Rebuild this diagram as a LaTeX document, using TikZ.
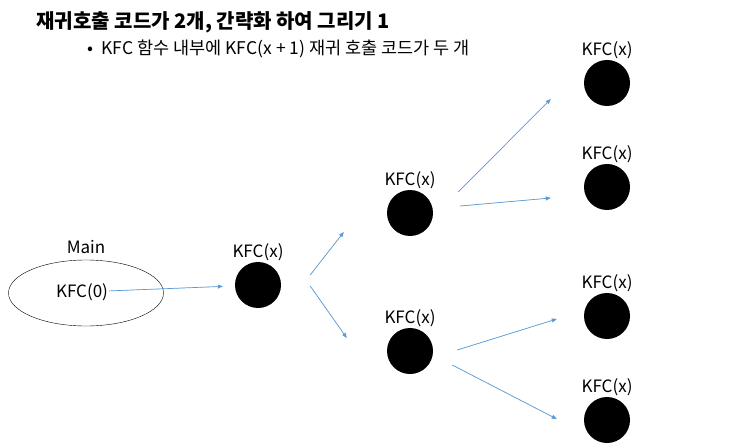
\documentclass[tikz,border=0pt]{standalone}
\usepackage{fontspec}
\setmainfont{Noto Sans CJK KR}
\usepackage{xcolor}
\usetikzlibrary{arrows.meta,positioning,shapes.geometric}
\definecolor{callblue}{RGB}{91,155,213}

\begin{document}
\begin{tikzpicture}[
    x=1pt,y=-1pt,
    node distance=1pt,
    call/.style={circle,fill=black,inner sep=0pt,minimum size=46pt},
    lbl/.style={inner sep=1pt,font=\fontsize{17}{19}\selectfont},
    arrow/.style={-{Triangle[length=5pt,width=4pt]},draw=callblue,fill=callblue,line width=0.7pt}
  ]
    \useasboundingbox (0,0) rectangle (751,446);
    \node[anchor=base west,font=\fontsize{20}{24}\selectfont\bfseries] (title) at (33,29)
      {재귀호출 코드가 2개, 간략화 하여 그리기 1};
    \node[anchor=base west,font=\fontsize{17.5}{20}\selectfont] (bullet) at (84,55)
      {•\hspace{8pt}KFC 함수 내부에 KFC(x + 1) 재귀 호출 코드가 두 개};

    % main frame
    \node[ellipse,draw,thin,minimum width=155pt,minimum height=66pt] (mainbox) at (86,293) {};
    \node[lbl] (k0) at (82,292) {KFC(0)};
    \node[lbl,above=5pt of mainbox] (mainlbl) {Main};

    % call tree
    \node[call] (n1) at (258,285) {};
    \node[call] (n2a) at (410,213) {};
    \node[call] (n2b) at (410,351) {};
    \node[call] (l1) at (607,83) {};
    \node[call] (l2) at (607,187) {};
    \node[call] (l3) at (607,316) {};
    \node[call] (l4) at (607,420) {};
    \foreach \n in {n1,n2a,n2b,l1,l2,l3,l4}
      \node[lbl,above=0pt of \n] (\n lbl) {KFC(x)};

    \draw[arrow,shorten >=12pt] (k0) -- (n1);
    \draw[arrow] ([xshift=29pt,yshift=10pt]n1.east) -- ([xshift=-43pt,yshift=-19pt]n2a.west);
    \draw[arrow] ([xshift=29pt,yshift=-1pt]n1.east) -- ([xshift=-40pt,yshift=13pt]n2b.west);
    \draw[arrow] ([xshift=25pt,yshift=21pt]n2a.east) -- ([xshift=-33pt,yshift=-16pt]l1.west);
    \draw[arrow] ([xshift=27pt,yshift=7pt]n2a.east) -- ([xshift=-33pt,yshift=-11pt]l2.west);
    \draw[arrow] ([xshift=24pt,yshift=1pt]n2b.east) -- ([xshift=-27pt,yshift=-3pt]l3.west);
    \draw[arrow] ([xshift=19pt,yshift=-14pt]n2b.east) -- ([xshift=-27pt,yshift=1pt]l4.west);
  \end{tikzpicture}
\end{document}
